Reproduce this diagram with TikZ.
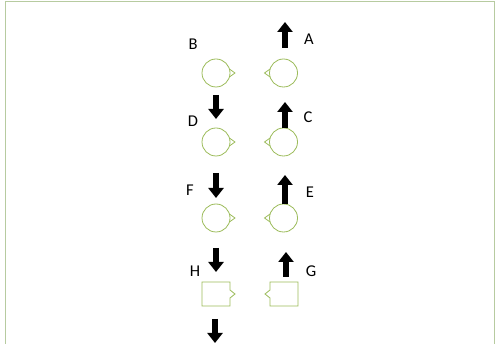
\documentclass[tikz,border=0pt]{standalone}
\usepackage{fontspec}
\setmainfont{Carlito}
\usetikzlibrary{arrows.meta}

\definecolor{shapegreen}{HTML}{9BBB59}
\definecolor{framegreen}{HTML}{B7CBA0}

\tikzset{
	outline/.style={draw=shapegreen, line width=0.8pt},
	blockarrow/.style={line width=6.5pt, -{Triangle[length=10pt,width=15pt]}},
	letter/.style={font=\fontsize{16.5}{19}\selectfont, inner sep=0pt},
}

\begin{document}
\begin{tikzpicture}[x=1pt,y=-1pt]
%
	\useasboundingbox (0,0) rectangle (495,344);
	\draw[framegreen, line width=1pt] (5.3,344) -- (5.3,1.3) -- (494,1.3) -- (494,344);
%
	% left column
	\draw[outline] (216,73) circle (14);
	\draw[outline] (229.4,69) -- (235,73) -- (229.4,77);
	\draw[outline] (216,142) circle (14);
	\draw[outline] (229.4,138) -- (235,142) -- (229.4,146);
	\draw[outline] (216,218) circle (14);
	\draw[outline] (229.4,214) -- (235,218) -- (229.4,222);
	\draw[outline] (230,290) -- (235,294) -- (230,298) -- (230,306) -- (202,306) -- (202,282) -- (230,282) -- cycle;
%
	% right column
	\draw[outline] (283.5,73) circle (14);
	\draw[outline] (270.1,69) -- (264.5,73) -- (270.1,77);
	\draw[outline] (283.5,142) circle (14);
	\draw[outline] (270.1,138) -- (264.5,142) -- (270.1,146);
	\draw[outline] (283.5,218) circle (14);
	\draw[outline] (270.1,214) -- (264.5,218) -- (270.1,222);
	\draw[outline] (270,290) -- (265,294) -- (270,298) -- (270,306) -- (298,306) -- (298,282) -- (270,282) -- cycle;
%
	\draw[blockarrow] (285,48) -- (285,22);
	\draw[blockarrow] (216,95) -- (216,119);
	\draw[blockarrow] (285,128) -- (285,102);
	\draw[blockarrow] (216,173) -- (216,198);
	\draw[blockarrow] (285,204) -- (285,175);
	\draw[blockarrow] (216,248) -- (216,272);
	\draw[blockarrow] (286,277) -- (286,252);
	\draw[blockarrow] (215,319) -- (215,343);
%
	\node[letter] (labA) at (309,39) {A};
	\node[letter] (labB) at (193,44) {B};
	\node[letter] (labC) at (308,117) {C};
	\node[letter] (labD) at (193,121) {D};
	\node[letter] (labE) at (310,192) {E};
	\node[letter] (labF) at (190,190) {F};
	\node[letter] (labG) at (311,271) {G};
	\node[letter] (labH) at (195,271) {H};
\end{tikzpicture}
\end{document}
